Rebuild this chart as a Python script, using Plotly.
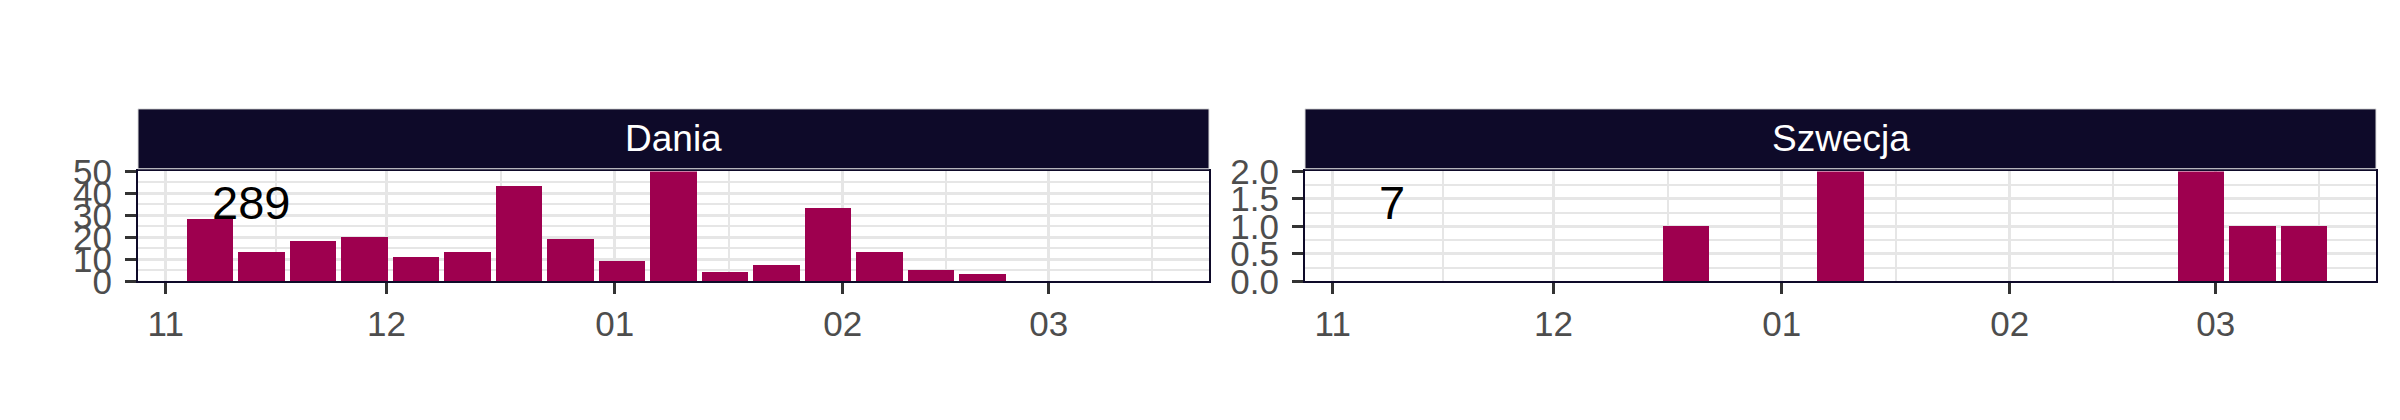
import pandas as pd
import plotly.graph_objects as go

# ---- data ----
weeks = ["2021-11-07", "2021-11-14", "2021-11-21", "2021-11-28", "2021-12-05",
         "2021-12-12", "2021-12-19", "2021-12-26", "2022-01-02", "2022-01-09",
         "2022-01-16", "2022-01-23", "2022-01-30", "2022-02-06", "2022-02-13",
         "2022-02-20", "2022-02-27", "2022-03-06", "2022-03-13"]
dania = [28, 13, 18, 20, 11, 13, 43, 19, 9, 50, 4, 7, 33, 13, 5, 3, 0, 0, 0]
szwecja = [0, 0, 0, 0, 0, 0, 1, 0, 0, 2, 0, 0, 0, 0, 0, 0, 2, 1, 1]
panels = ["Dania", "Szwecja"]
month_ticks = ["2021-11-01", "2021-12-01", "2022-01-01", "2022-02-01", "2022-03-01"]
month_labels = ["11", "12", "01", "02", "03"]
y_ticks = [[0, 10, 20, 30, 40, 50], [0, 0.5, 1.0, 1.5, 2.0]]

BAR = "#9E004F"
NAVY = "#0E0A29"
GRID = "#E6E6E6"
FONT = "Liberation Sans, Arial, sans-serif"

W, H = 2400, 420


def fx(px):
    return px / W


def fy(py):
    return 1 - py / H


day = pd.Timedelta(days=1)
bw = 0.9 * 7 * day
wk = pd.to_datetime(weeks)
lo = wk.min() - bw / 2
hi = wk.max() + bw / 2
span = hi - lo
xr = [lo - 0.05 * span, hi + 0.05 * span]

mt = pd.to_datetime(month_ticks)
minor = []
for a, b in zip(mt[:-1], mt[1:]):
    minor.append(a + (b - a) / 2)
minor.append(mt[-1] + (mt[-1] - mt[-2]) / 2)
minor = [m for m in minor if xr[0] <= m <= xr[1]]

px_x = [(138, 1209), (1305, 2376)]
ydom = [fy(288), fy(167)]

fig = go.Figure()
series = [dania, szwecja]
for i, (name, vals) in enumerate(zip(panels, series)):
    n = "" if i == 0 else str(i + 1)
    fig.add_trace(go.Bar(x=wk, y=vals, width=bw.total_seconds() * 1000,
                         marker=dict(color=BAR, line=dict(width=0)),
                         xaxis="x" + n, yaxis="y" + n, showlegend=False))
    xd = [fx(px_x[i][0]), fx(px_x[i][1])]
    yt = y_ticks[i]
    ymax = max(vals)
    ystep = yt[1] - yt[0]
    yminor = [v + ystep / 2 for v in yt[:-1]]
    fig.update_layout(**{
        "xaxis" + n: dict(domain=xd, type="date", range=xr, anchor="y" + n,
                          tickvals=mt, ticktext=month_labels,
                          ticks="outside", ticklen=11, tickwidth=3, tickcolor="#333333",
                          tickfont=dict(size=35, color="#4D4D4D", family=FONT),
                          showgrid=True, gridcolor=GRID, gridwidth=2.5,
                          minor=dict(tickvals=minor, showgrid=True, gridcolor=GRID, gridwidth=1.5, ticks=""),
                          showline=True, mirror=True, linecolor=NAVY, linewidth=2,
                          zeroline=False, fixedrange=True),
        "yaxis" + n: dict(domain=ydom, range=[0, ymax], anchor="x" + n,
                          tickvals=yt, tickformat=".1f" if i == 1 else "d",
                          ticks="outside", ticklen=11, tickwidth=3, tickcolor="#333333",
                          tickfont=dict(size=35, color="#4D4D4D", family=FONT),
                          showgrid=True, gridcolor=GRID, gridwidth=2.5,
                          minor=dict(tickvals=yminor, showgrid=True, gridcolor=GRID, gridwidth=1.5, ticks=""),
                          showline=True, mirror=True, linecolor=NAVY, linewidth=2,
                          zeroline=False, fixedrange=True, ticklabelstandoff=6),
    })
    # strip
    fig.add_shape(type="rect", xref="paper", yref="paper",
                  x0=xd[0], x1=xd[1], y0=fy(164), y1=fy(98),
                  fillcolor=NAVY, line=dict(color="#DDDDDD", width=1), layer="above")
    fig.add_annotation(xref="paper", yref="paper", x=(xd[0] + xd[1]) / 2, y=fy(131),
                       text=name, showarrow=False, xanchor="center", yanchor="middle",
                       font=dict(size=37, color="white", family=FONT))
    # total
    fig.add_annotation(xref="x" + n, yref="y" + n + " domain", x=wk[0], y=0.72,
                       text=str(sum(vals)), showarrow=False, xanchor="left", yanchor="middle",
                       font=dict(size=47, color="black", family=FONT))

fig.update_layout(width=W, height=H, margin=dict(l=0, r=0, t=0, b=0),
                  paper_bgcolor="white", plot_bgcolor="white", bargap=0,
                  font=dict(family=FONT))
post = ("document.documentElement.style.margin='0';document.documentElement.style.overflow='hidden';"
        "document.body.style.margin='0';document.body.style.padding='0';document.body.style.overflow='hidden';")
fig.write_html("out.html", post_script=post, config={"displayModeBar": False})
